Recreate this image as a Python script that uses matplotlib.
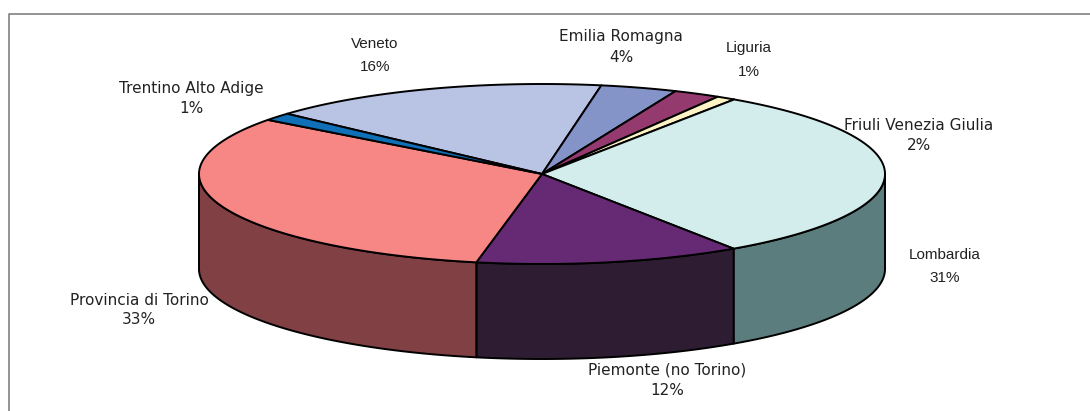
"""
3D looking pie of visitors by region, drawn by hand with polygons.
"""
import numpy as np
import matplotlib
matplotlib.use("Agg")
import matplotlib.pyplot as plt
from matplotlib.patches import Polygon

regions = ['Veneto', 'Emilia Romagna', 'Friuli Venezia Giulia', 'Liguria',
           'Lombardia', 'Piemonte (no Torino)', 'Provincia di Torino',
           'Trentino Alto Adige']
# slice sizes as they look on the picture, the printed labels are rounded apart
shares = [16.1, 3.6, 2.2, 0.9, 31.1, 12.5, 32.2, 1.4]
percents = [16, 4, 2, 1, 31, 12, 33, 1]
top_colors = ['#b9c4e4', '#8594c8', '#953a6e', '#fdf3c4',
              '#d2edec', '#662a74', '#f78784', '#0f70b8']
side_colors = ['#5c6272', '#424a64', '#4a1d37', '#7e7962',
               '#5c7d7e', '#2e1c33', '#804044', '#083a5c']

# label placement in image pixels
label_x = [375, 621, 919, 749, 945, 667, 139, 191]
label_y = [44, 37, 125, 48, 255, 370, 300, 88]
pct_y = [67, 57, 145, 72, 278, 390, 319, 108]
label_font = ['Liberation Sans', 'DejaVu Sans', 'DejaVu Sans', 'Liberation Sans',
              'Liberation Sans', 'DejaVu Sans', 'DejaVu Sans', 'DejaVu Sans']

CX, CY = 542, 174
RX, RY = 343, 90
DEPTH = 95
START = -48.0


def rim(a0, a1):
    # angles are clockwise from the top of the pie, in degrees
    t = np.radians(np.linspace(a0, a1, max(int(abs(a1 - a0) * 2), 2)))
    return CX + RX * np.sin(t), CY - RY * np.cos(t)


fig = plt.figure(figsize=(10.9, 4.11), dpi=100)
ax = fig.add_axes([0, 0, 1, 1])
ax.set_xlim(0, 1090)
ax.set_ylim(411, 0)
ax.axis('off')

# frame runs off the right and bottom of the picture
ax.plot([9, 9, 1090], [411, 14, 14], color='#808080', lw=1.2)

edges = START + np.cumsum([0] + shares) * 3.6

# the front wall first, then the top face
for a0, a1, c in zip(edges[:-1], edges[1:], side_colors):
    lo, hi = max(a0, 90), min(a1, 270)
    if lo >= hi:
        continue
    x, y = rim(lo, hi)
    pts = np.r_[np.c_[x, y], np.c_[x[::-1], y[::-1] + DEPTH]]
    ax.add_patch(Polygon(pts, closed=True, fc=c, ec='black', lw=1.4, joinstyle='round'))

for a0, a1, c in zip(edges[:-1], edges[1:], top_colors):
    x, y = rim(a0, a1)
    pts = np.r_[[[CX, CY]], np.c_[x, y]]
    ax.add_patch(Polygon(pts, closed=True, fc=c, ec='black', lw=1.4, joinstyle='round'))

for name, val, lx, ly, py, fam in zip(regions, percents, label_x, label_y, pct_y, label_font):
    ax.text(lx, ly, name, ha='center', va='center', fontsize=11,
            family=fam, color='#222222', zorder=5)
    ax.text(lx, py, '%d%%' % val, ha='center', va='center', fontsize=11,
            family=fam, color='#222222', zorder=5)

fig.savefig('out.png', dpi=100)
